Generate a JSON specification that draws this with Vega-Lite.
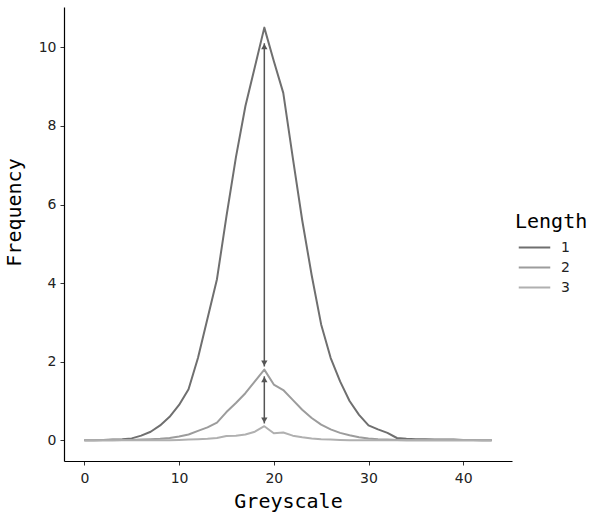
{
  "$schema": "https://vega.github.io/schema/vega-lite/v6.json",
  "width": 448,
  "height": 454,
  "autosize": {"type": "none"},
  "padding": {"left": 64, "top": 7, "right": 80, "bottom": 51},
  "background": "white",
  "config": {
    "view": {"stroke": null},
    "axis": {
      "grid": false,
      "domainColor": "#000000",
      "domainWidth": 1.2,
      "tickColor": "#333333",
      "tickSize": 4,
      "labelFont": "DejaVu Sans",
      "labelFontSize": 14,
      "labelColor": "#222222",
      "titleFont": "DejaVu Sans Mono",
      "titleFontSize": 20,
      "titleFontWeight": "normal",
      "titleColor": "#000000"
    }
  },
  "datasets": {
    "freq": [
      {"grey": 0, "freq": 0, "len": "1"}, {"grey": 1, "freq": 0.005, "len": "1"}, {"grey": 2, "freq": 0.01, "len": "1"}, {"grey": 3, "freq": 0.02, "len": "1"}, {"grey": 4, "freq": 0.03, "len": "1"}, {"grey": 5, "freq": 0.05, "len": "1"}, {"grey": 6, "freq": 0.12, "len": "1"}, {"grey": 7, "freq": 0.22, "len": "1"}, {"grey": 8, "freq": 0.38, "len": "1"}, {"grey": 9, "freq": 0.6, "len": "1"}, {"grey": 10, "freq": 0.9, "len": "1"}, {"grey": 11, "freq": 1.3, "len": "1"}, {"grey": 12, "freq": 2.1, "len": "1"}, {"grey": 13, "freq": 3.1, "len": "1"}, {"grey": 14, "freq": 4.1, "len": "1"}, {"grey": 15, "freq": 5.7, "len": "1"}, {"grey": 16, "freq": 7.2, "len": "1"}, {"grey": 17, "freq": 8.5, "len": "1"}, {"grey": 18, "freq": 9.5, "len": "1"}, {"grey": 19, "freq": 10.5, "len": "1"}, {"grey": 20, "freq": 9.65, "len": "1"}, {"grey": 21, "freq": 8.84, "len": "1"}, {"grey": 22, "freq": 7.2, "len": "1"}, {"grey": 23, "freq": 5.6, "len": "1"}, {"grey": 24, "freq": 4.2, "len": "1"}, {"grey": 25, "freq": 2.95, "len": "1"}, {"grey": 26, "freq": 2.1, "len": "1"}, {"grey": 27, "freq": 1.5, "len": "1"}, {"grey": 28, "freq": 1.0, "len": "1"}, {"grey": 29, "freq": 0.65, "len": "1"}, {"grey": 30, "freq": 0.38, "len": "1"}, {"grey": 31, "freq": 0.28, "len": "1"}, {"grey": 32, "freq": 0.19, "len": "1"}, {"grey": 33, "freq": 0.06, "len": "1"}, {"grey": 34, "freq": 0.04, "len": "1"}, {"grey": 35, "freq": 0.03, "len": "1"}, {"grey": 36, "freq": 0.03, "len": "1"}, {"grey": 37, "freq": 0.02, "len": "1"}, {"grey": 38, "freq": 0.02, "len": "1"}, {"grey": 39, "freq": 0.02, "len": "1"}, {"grey": 40, "freq": 0.01, "len": "1"}, {"grey": 41, "freq": 0.01, "len": "1"}, {"grey": 42, "freq": 0, "len": "1"}, {"grey": 43, "freq": 0, "len": "1"},
      {"grey": 0, "freq": 0, "len": "2"}, {"grey": 1, "freq": 0, "len": "2"}, {"grey": 2, "freq": 0, "len": "2"}, {"grey": 3, "freq": 0.005, "len": "2"}, {"grey": 4, "freq": 0.01, "len": "2"}, {"grey": 5, "freq": 0.01, "len": "2"}, {"grey": 6, "freq": 0.02, "len": "2"}, {"grey": 7, "freq": 0.03, "len": "2"}, {"grey": 8, "freq": 0.04, "len": "2"}, {"grey": 9, "freq": 0.06, "len": "2"}, {"grey": 10, "freq": 0.1, "len": "2"}, {"grey": 11, "freq": 0.15, "len": "2"}, {"grey": 12, "freq": 0.24, "len": "2"}, {"grey": 13, "freq": 0.33, "len": "2"}, {"grey": 14, "freq": 0.45, "len": "2"}, {"grey": 15, "freq": 0.72, "len": "2"}, {"grey": 16, "freq": 0.95, "len": "2"}, {"grey": 17, "freq": 1.2, "len": "2"}, {"grey": 18, "freq": 1.5, "len": "2"}, {"grey": 19, "freq": 1.8, "len": "2"}, {"grey": 20, "freq": 1.42, "len": "2"}, {"grey": 21, "freq": 1.28, "len": "2"}, {"grey": 22, "freq": 1.03, "len": "2"}, {"grey": 23, "freq": 0.78, "len": "2"}, {"grey": 24, "freq": 0.57, "len": "2"}, {"grey": 25, "freq": 0.4, "len": "2"}, {"grey": 26, "freq": 0.28, "len": "2"}, {"grey": 27, "freq": 0.19, "len": "2"}, {"grey": 28, "freq": 0.13, "len": "2"}, {"grey": 29, "freq": 0.08, "len": "2"}, {"grey": 30, "freq": 0.05, "len": "2"}, {"grey": 31, "freq": 0.03, "len": "2"}, {"grey": 32, "freq": 0.02, "len": "2"}, {"grey": 33, "freq": 0.01, "len": "2"}, {"grey": 34, "freq": 0.005, "len": "2"}, {"grey": 35, "freq": 0.005, "len": "2"}, {"grey": 36, "freq": 0, "len": "2"}, {"grey": 37, "freq": 0, "len": "2"}, {"grey": 38, "freq": 0, "len": "2"}, {"grey": 39, "freq": 0, "len": "2"}, {"grey": 40, "freq": 0, "len": "2"}, {"grey": 41, "freq": 0, "len": "2"}, {"grey": 42, "freq": 0, "len": "2"}, {"grey": 43, "freq": 0, "len": "2"},
      {"grey": 0, "freq": 0, "len": "3"}, {"grey": 1, "freq": 0, "len": "3"}, {"grey": 2, "freq": 0, "len": "3"}, {"grey": 3, "freq": 0, "len": "3"}, {"grey": 4, "freq": 0, "len": "3"}, {"grey": 5, "freq": 0, "len": "3"}, {"grey": 6, "freq": 0, "len": "3"}, {"grey": 7, "freq": 0, "len": "3"}, {"grey": 8, "freq": 0, "len": "3"}, {"grey": 9, "freq": 0, "len": "3"}, {"grey": 10, "freq": 0.01, "len": "3"}, {"grey": 11, "freq": 0.02, "len": "3"}, {"grey": 12, "freq": 0.03, "len": "3"}, {"grey": 13, "freq": 0.04, "len": "3"}, {"grey": 14, "freq": 0.06, "len": "3"}, {"grey": 15, "freq": 0.11, "len": "3"}, {"grey": 16, "freq": 0.12, "len": "3"}, {"grey": 17, "freq": 0.15, "len": "3"}, {"grey": 18, "freq": 0.22, "len": "3"}, {"grey": 19, "freq": 0.36, "len": "3"}, {"grey": 20, "freq": 0.18, "len": "3"}, {"grey": 21, "freq": 0.2, "len": "3"}, {"grey": 22, "freq": 0.12, "len": "3"}, {"grey": 23, "freq": 0.08, "len": "3"}, {"grey": 24, "freq": 0.05, "len": "3"}, {"grey": 25, "freq": 0.03, "len": "3"}, {"grey": 26, "freq": 0.02, "len": "3"}, {"grey": 27, "freq": 0.01, "len": "3"}, {"grey": 28, "freq": 0, "len": "3"}, {"grey": 29, "freq": 0, "len": "3"}, {"grey": 30, "freq": 0, "len": "3"}, {"grey": 31, "freq": 0, "len": "3"}, {"grey": 32, "freq": 0, "len": "3"}, {"grey": 33, "freq": 0, "len": "3"}, {"grey": 34, "freq": 0, "len": "3"}, {"grey": 35, "freq": 0, "len": "3"}, {"grey": 36, "freq": 0, "len": "3"}, {"grey": 37, "freq": 0, "len": "3"}, {"grey": 38, "freq": 0, "len": "3"}, {"grey": 39, "freq": 0, "len": "3"}, {"grey": 40, "freq": 0, "len": "3"}, {"grey": 41, "freq": 0, "len": "3"}, {"grey": 42, "freq": 0, "len": "3"}, {"grey": 43, "freq": 0, "len": "3"}
    ],
    "arrows": [
      {"grey": 19, "from": 10.1, "to": 1.88},
      {"grey": 19, "from": 1.63, "to": 0.43}
    ],
    "heads": [
      {"grey": 19, "freq": 10.02, "dir": "up"},
      {"grey": 19, "freq": 1.96, "dir": "down"},
      {"grey": 19, "freq": 1.55, "dir": "up"},
      {"grey": 19, "freq": 0.51, "dir": "down"}
    ]
  },
  "layer": [
    {
      "data": {"name": "freq"},
      "mark": {"type": "line", "strokeWidth": 2, "strokeJoin": "round"},
      "encoding": {
        "x": {
          "field": "grey", "type": "quantitative",
          "scale": {"domain": [-2.15, 45.15], "nice": false, "zero": false},
          "axis": {"values": [0, 10, 20, 30, 40], "title": "Greyscale", "titlePadding": 6, "labelPadding": 6}
        },
        "y": {
          "field": "freq", "type": "quantitative",
          "scale": {"domain": [-0.525, 11.025], "nice": false, "zero": false},
          "axis": {"values": [0, 2, 4, 6, 8, 10], "title": "Frequency", "titlePadding": 14, "labelPadding": 4, "titleY": 205}
        },
        "color": {
          "field": "len", "type": "nominal",
          "scale": {"domain": ["1", "2", "3"], "range": ["#6f6f6f", "#9c9c9c", "#b0b0b0"]},
          "legend": {
            "title": "Length",
            "orient": "none",
            "legendX": 451,
            "legendY": 205,
            "titleFont": "DejaVu Sans Mono",
            "titleFontSize": 20,
            "titleFontWeight": "normal",
            "titleColor": "#000000",
            "titlePadding": 4,
            "labelFont": "DejaVu Sans",
            "labelFontSize": 14,
            "labelColor": "#222222",
            "labelOffset": 15,
            "symbolType": "M-1.5,0H1.5",
            "symbolSize": 441,
            "symbolStrokeWidth": 2,
            "symbolOffset": 8,
            "rowPadding": 1
          }
        },
        "detail": {"field": "len"}
      }
    },
    {
      "data": {"name": "arrows"},
      "mark": {"type": "rule", "color": "#555555", "strokeWidth": 1.5},
      "encoding": {
        "x": {"field": "grey", "type": "quantitative"},
        "y": {"field": "from", "type": "quantitative"},
        "y2": {"field": "to"}
      }
    },
    {
      "data": {"name": "heads"},
      "mark": {"type": "point", "filled": true, "color": "#555555", "opacity": 1, "size": 40},
      "encoding": {
        "x": {"field": "grey", "type": "quantitative"},
        "y": {"field": "freq", "type": "quantitative"},
        "shape": {
          "field": "dir", "type": "nominal",
          "scale": {"domain": ["up", "down"], "range": ["triangle-up", "triangle-down"]},
          "legend": null
        }
      }
    }
  ]
}
